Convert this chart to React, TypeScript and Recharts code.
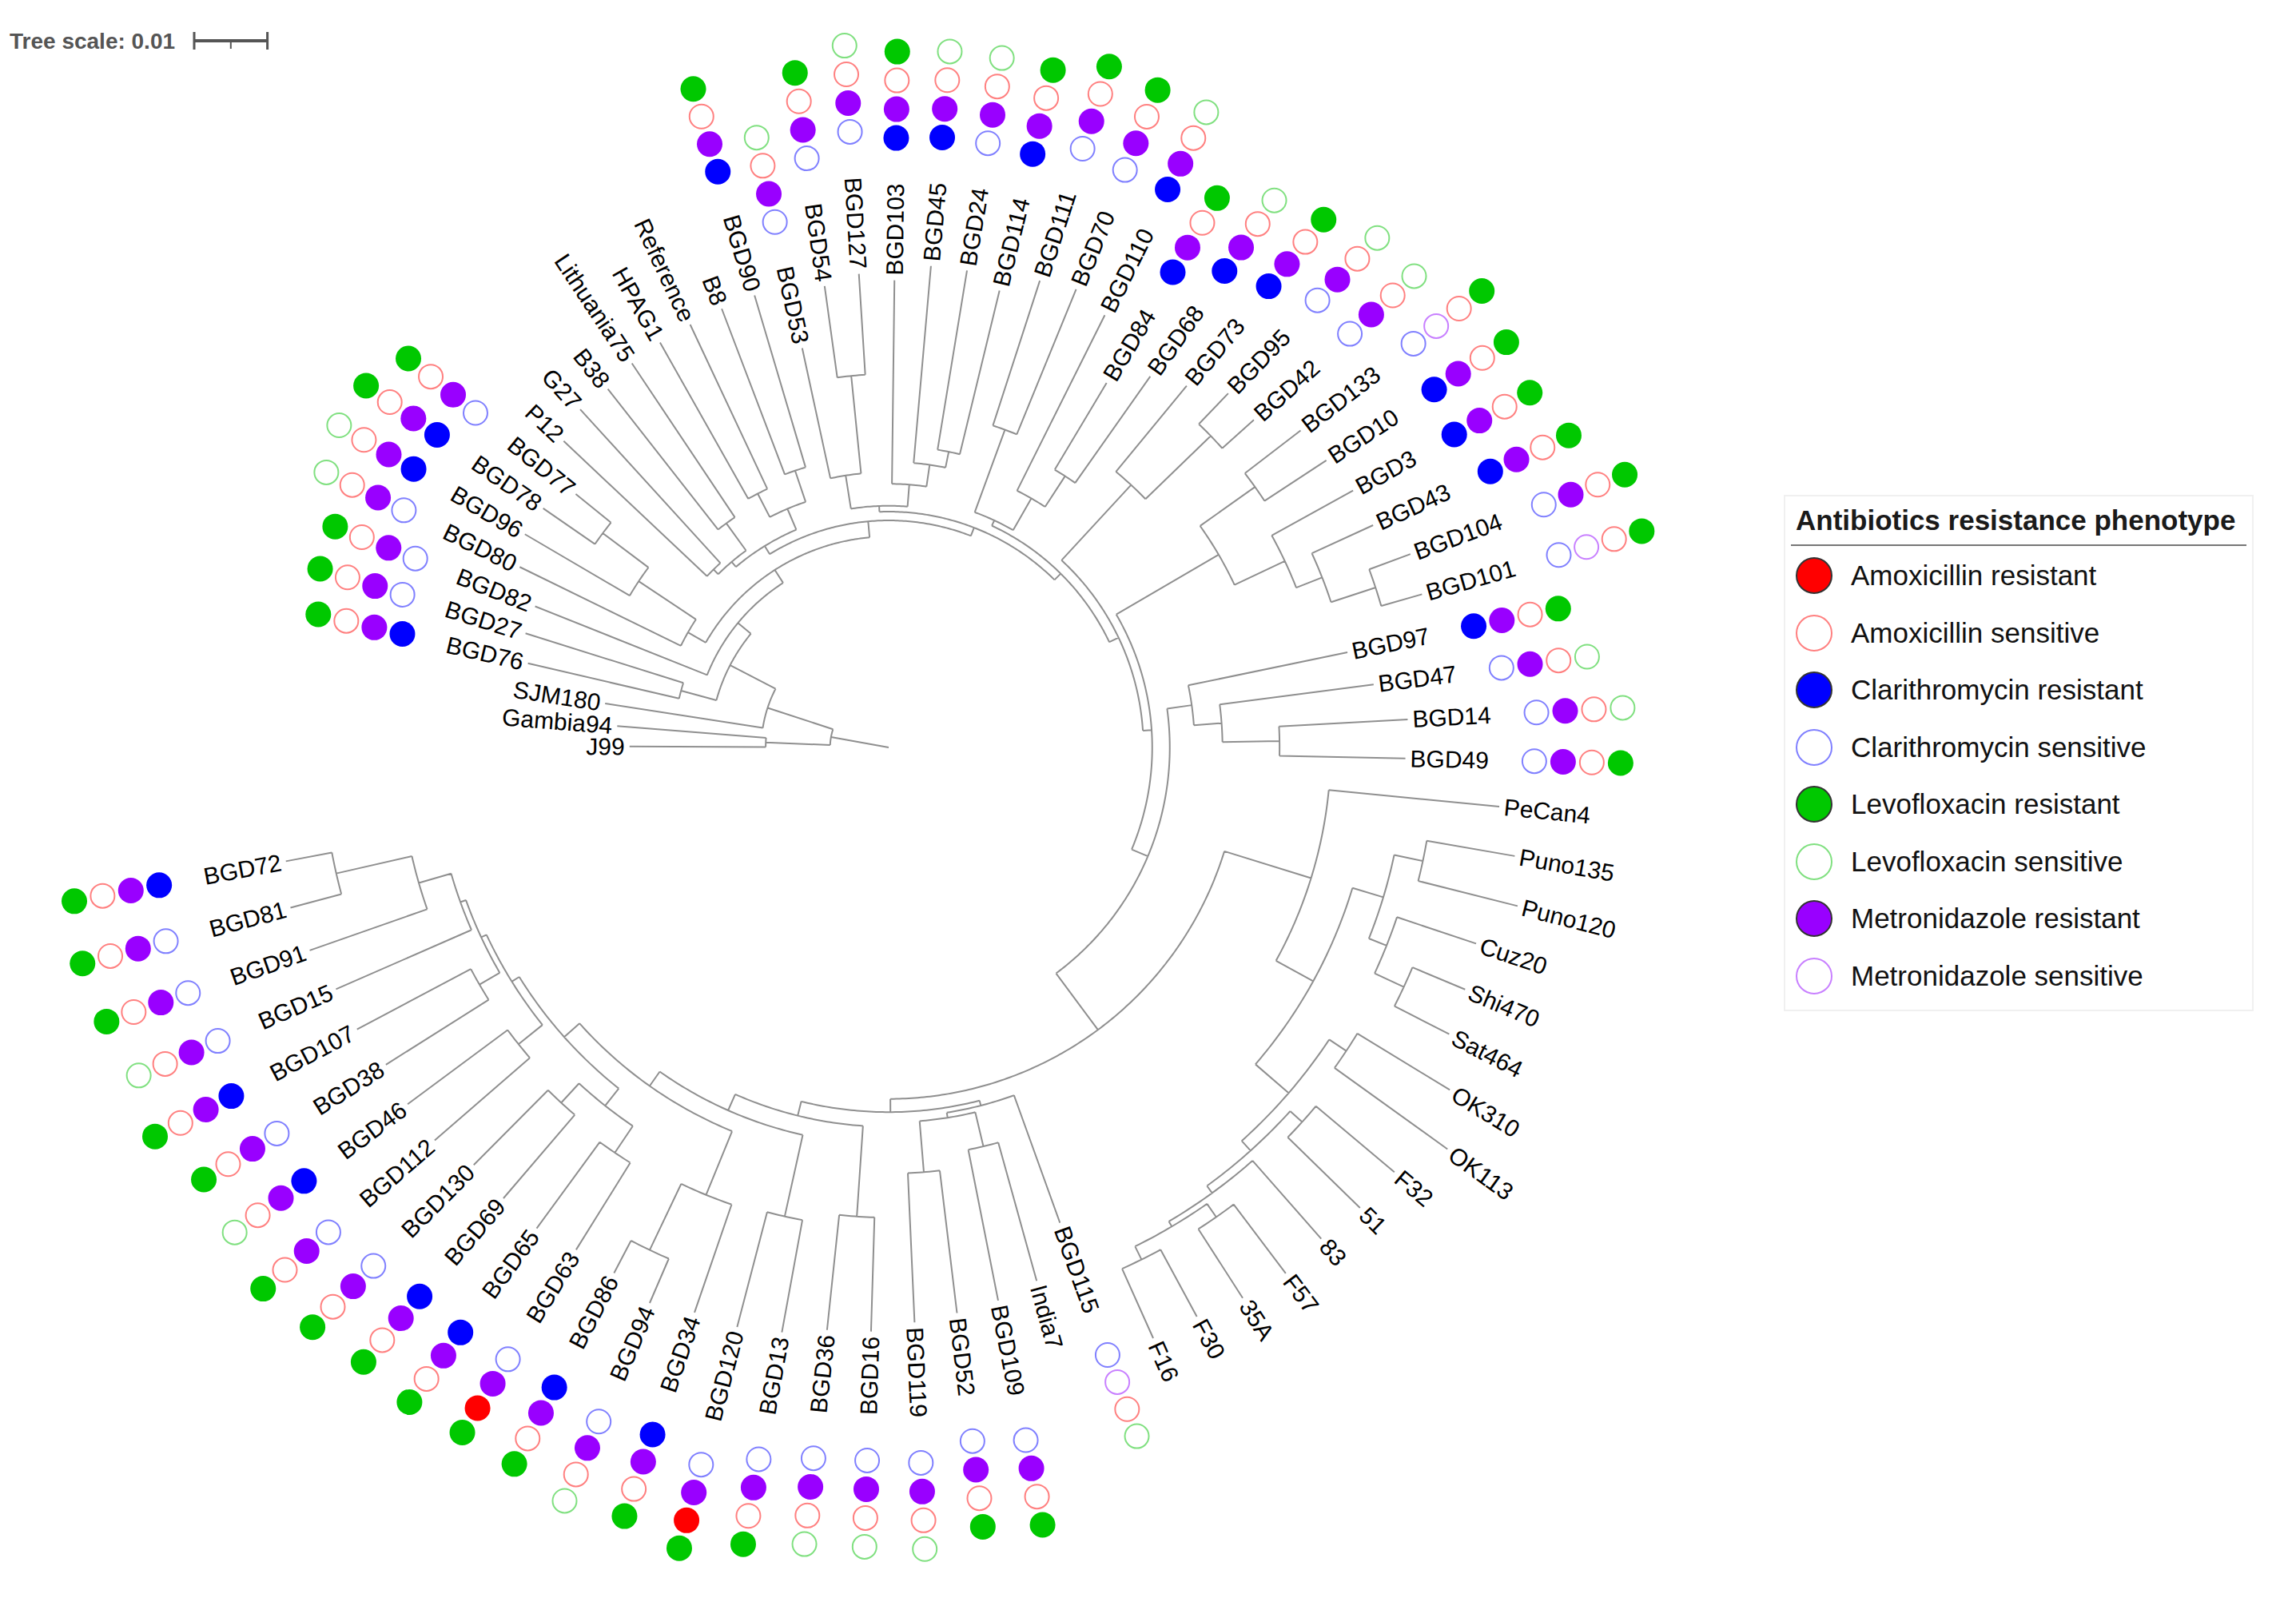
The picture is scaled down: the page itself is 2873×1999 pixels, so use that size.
import React, { useMemo } from 'react';
import { ComposedChart, Line, Scatter, XAxis, YAxis, ReferenceLine } from 'recharts';

// Phylogeny in Newick form. Each ":" value is the node's distance from the root,
// in units of 1e-4 substitutions per site.
const TREE_NEWICK = `
((
  (J99:354,Gambia94:372):168,
  (SJM180:392,
   ((BGD76:506,BGD27:520):294,
    (BGD82:520,
     ((BGD80:561,(BGD96:576,(BGD78:574,BGD77:550):488):410):316,
      ((((P12:610,G27:625):341,(B38:622,Lithuania75:631):378):332,((HPAG1:635,Reference:638):390,(B8:641,BGD90:644):399):354):323,
       (((BGD53:558,(BGD54:636,BGD127:648):510):376,(BGD103:638,(BGD45:660,(BGD24:660,BGD114:642):412):390):360):330,
        (((BGD111:670,BGD70:676):462,(BGD110:660,(BGD84:580,BGD68:620):442):392):342,
         ((BGD73:640,(BGD95:670,BGD42:670):612):488,
          (((BGD133:710,BGD10:715):614,(BGD3:725,(BGD43:728,(BGD104:760,BGD101:758):700):636):598):522,
           ((BGD97:640,(BGD47:668,(BGD14:710,BGD49:706):534):456):418,
            ((PeCan4:838,(((Puno135:868,Puno120:886):746,(Cuz20:846,(Shi470:854,Sat464:860):776):732):706,((OK310:898,OK113:940):750,((F32:902,51:900):762,(83:894,((F57:900,35A:894):782,(F30:884,F16:884):780):760):752):740):722):662):604,
             ((BGD115:690,((India7:756,BGD109:770):560,(BGD52:778,BGD119:786):582):512):505,
              ((BGD16:798,BGD36:800):642,
               ((BGD13:812,BGD120:818):656,
                ((BGD34:816,(BGD94:826,BGD86:810):760):660,
                 (((BGD63:808,BGD65:814):668,(BGD69:810,BGD130:804):660):624,((BGD112:820,BGD46:818):648,((BGD38:812,BGD107:822):646,(BGD15:824,(BGD91:838,(BGD81:846,BGD72:838):774):668):622):614):606):594
                ):566
               ):542
              ):518
             ):498
            ):480
           ):384
          ):360
         ):348
        ):334
       ):322
      ):310
     ):288
    ):267
   ):244
  ):174
):80);`;

// strains with susceptibility testing, and their phenotypes (1 = resistant, 0 = sensitive)
const AST_STRAINS = [
  'BGD76', 'BGD27', 'BGD82', 'BGD80', 'BGD96', 'BGD78', 'BGD77',
  'BGD90', 'BGD53', 'BGD54', 'BGD127', 'BGD103', 'BGD45', 'BGD24', 'BGD114', 'BGD111', 'BGD70',
  'BGD110', 'BGD84', 'BGD68', 'BGD73', 'BGD95', 'BGD42', 'BGD133', 'BGD10', 'BGD3', 'BGD43',
  'BGD104', 'BGD101', 'BGD97', 'BGD47', 'BGD14', 'BGD49',
  'BGD115', 'BGD109', 'BGD52', 'BGD119', 'BGD16', 'BGD36', 'BGD13', 'BGD120', 'BGD34', 'BGD94',
  'BGD86', 'BGD63', 'BGD65', 'BGD69', 'BGD130', 'BGD112', 'BGD46', 'BGD38', 'BGD107', 'BGD15',
  'BGD91', 'BGD81', 'BGD72',
];
const CLARITHROMYCIN = [
  1, 0, 0, 0, 1, 1, 0,
  1, 0, 0, 0, 1, 1, 0, 1, 0, 0,
  1, 1, 1, 1, 0, 0, 0, 1, 1, 1,
  0, 0, 1, 0, 0, 0,
  0, 0, 0, 0, 0, 0, 0, 0, 1, 0,
  1, 0, 1, 1, 0, 0, 1, 0, 1, 0,
  0, 0, 1,
];
const METRONIDAZOLE = [
  1, 1, 1, 1, 1, 1, 1,
  1, 1, 1, 1, 1, 1, 1, 1, 1, 1,
  1, 1, 1, 1, 1, 1, 0, 1, 1, 1,
  1, 0, 1, 1, 1, 1,
  0, 1, 1, 1, 1, 1, 1, 1, 1, 1,
  1, 1, 1, 1, 1, 1, 1, 1, 1, 1,
  1, 1, 1,
];
const AMOXICILLIN = [
  0, 0, 0, 0, 0, 0, 0,
  0, 0, 0, 0, 0, 0, 0, 0, 0, 0,
  0, 0, 0, 0, 0, 0, 0, 0, 0, 0,
  0, 0, 0, 0, 0, 0,
  0, 0, 0, 0, 0, 0, 0, 1, 0, 0,
  0, 1, 0, 0, 0, 0, 0, 0, 0, 0,
  0, 0, 0,
];
const LEVOFLOXACIN = [
  1, 1, 1, 0, 0, 1, 1,
  1, 0, 1, 0, 1, 0, 0, 1, 1, 1,
  0, 1, 0, 1, 0, 0, 1, 1, 1, 1,
  1, 1, 1, 0, 0, 1,
  0, 1, 1, 0, 0, 0, 1, 1, 1, 0,
  1, 1, 1, 1, 1, 1, 0, 1, 1, 0,
  1, 1, 1,
];

const TREE_SCALE = 0.01;

const W = 2857;
const H = 1983;
const CX = 1104;
const CY = 927;
const PX_PER_UNIT = 9160;
const FIRST_ANGLE = 179.8;
const ANGLE_STEP = 4.31;
const LABEL_SIZE = 30;
const LABEL_GAP = 6;
const RING_GAP = 57;
const RING_STEP = 36;
const DOT_R = 16;
const FONT = '"Liberation Sans", Arial, sans-serif';

// inner ring first
const RINGS = [
  { drug: 'Clarithromycin', values: CLARITHROMYCIN, fill: '#0000ff', line: '#8080ff' },
  { drug: 'Metronidazole', values: METRONIDAZOLE, fill: '#9900ff', line: '#c880ff' },
  { drug: 'Amoxicillin', values: AMOXICILLIN, fill: '#ff0000', line: '#ff8080' },
  { drug: 'Levofloxacin', values: LEVOFLOXACIN, fill: '#00c800', line: '#80e080' },
];
const LEGEND_ORDER = ['Amoxicillin', 'Clarithromycin', 'Levofloxacin', 'Metronidazole'];

type TNode = { name: string; depth: number; children: TNode[]; angle: number };

function parseNewick(src: string): TNode {
  const s = src.replace(/\s+/g, '');
  let i = 0;
  const read = (): TNode => {
    const node: TNode = { name: '', depth: 0, children: [], angle: 0 };
    if (s[i] === '(') {
      i++;
      node.children.push(read());
      while (s[i] === ',') {
        i++;
        node.children.push(read());
      }
      i++;
    }
    let name = '';
    while (i < s.length && !':,);'.includes(s[i])) name += s[i++];
    node.name = name;
    if (s[i] === ':') {
      i++;
      let num = '';
      while (i < s.length && !',);'.includes(s[i])) num += s[i++];
      node.depth = Number(num) * 1e-4;
    }
    return node;
  };
  return read();
}

const polar = (r: number, deg: number) => {
  const a = (deg * Math.PI) / 180;
  return { x: CX + r * Math.cos(a), y: CY - r * Math.sin(a) };
};

function layoutTree() {
  const root = parseNewick(TREE_NEWICK);
  const leaves: TNode[] = [];
  const place = (n: TNode) => {
    if (!n.children.length) {
      n.angle = FIRST_ANGLE - leaves.length * ANGLE_STEP;
      leaves.push(n);
      return;
    }
    n.children.forEach(place);
    n.angle = (n.children[0].angle + n.children[n.children.length - 1].angle) / 2;
  };
  place(root);

  const branches: { x: number; y: number | null }[] = [];
  const draw = (n: TNode, parentDepth: number | null) => {
    const r = n.depth * PX_PER_UNIT;
    if (parentDepth !== null) {
      const a = polar(parentDepth * PX_PER_UNIT, n.angle);
      const b = polar(r, n.angle);
      branches.push(a, b, { x: b.x, y: null });
    }
    if (n.children.length > 1) {
      const a0 = n.children[0].angle;
      const a1 = n.children[n.children.length - 1].angle;
      const steps = Math.max(2, Math.ceil(Math.abs(a0 - a1) / 0.5));
      for (let k = 0; k <= steps; k++) branches.push(polar(r, a0 + ((a1 - a0) * k) / steps));
      branches.push({ x: branches[branches.length - 1].x, y: null });
    }
    n.children.forEach((c) => draw(c, n.depth));
  };
  draw(root, null);

  const labels = leaves.map((l) => ({
    ...polar(l.depth * PX_PER_UNIT + LABEL_GAP, l.angle),
    name: l.name,
    angle: l.angle,
  }));

  const ctx = document.createElement('canvas').getContext('2d')!;
  ctx.font = `${LABEL_SIZE}px ${FONT}`;
  const dots: any[] = [];
  AST_STRAINS.forEach((strain, i) => {
    const leaf = leaves.find((l) => l.name === strain);
    if (!leaf) return;
    const start = leaf.depth * PX_PER_UNIT + LABEL_GAP + ctx.measureText(strain).width + RING_GAP;
    RINGS.forEach((ring, k) => {
      dots.push({
        ...polar(start + k * RING_STEP, leaf.angle),
        resistant: ring.values[i] === 1,
        fill: ring.fill,
        line: ring.line,
      });
    });
  });

  return { branches, labels, dots };
}

const renderLabel = (p: any) => {
  const { cx, cy, payload } = p;
  const right = Math.cos((payload.angle * Math.PI) / 180) >= 0;
  const rot = right ? -payload.angle : 180 - payload.angle;
  return (
    <text
      x={cx}
      y={cy}
      dy="0.35em"
      textAnchor={right ? 'start' : 'end'}
      transform={`rotate(${rot} ${cx} ${cy})`}
      fontSize={LABEL_SIZE}
      fontFamily={FONT}
      fill="#000"
    >
      {payload.name}
    </text>
  );
};

const renderDot = (p: any) => {
  const { cx, cy, payload } = p;
  return payload.resistant ? (
    <circle cx={cx} cy={cy} r={DOT_R} fill={payload.fill} />
  ) : (
    <circle cx={cx} cy={cy} r={DOT_R - 1} fill="#fff" stroke={payload.line} strokeWidth={2} />
  );
};

function PhenotypeLegend() {
  const items = LEGEND_ORDER.flatMap((drug) => {
    const ring = RINGS.find((r) => r.drug === drug)!;
    return [
      { label: `${drug} resistant`, filled: true, color: ring.fill },
      { label: `${drug} sensitive`, filled: false, color: ring.line },
    ];
  });
  return (
    <div
      style={{
        position: 'absolute',
        left: 2224,
        top: 611,
        width: 584,
        height: 642,
        border: '2px solid #f0f0f0',
        background: '#fff',
        fontFamily: FONT,
      }}
    >
      <div
        style={{
          position: 'absolute',
          left: 13,
          top: 10,
          fontSize: 35,
          fontWeight: 'bold',
          lineHeight: '40px',
          color: '#1a1a1a',
          whiteSpace: 'nowrap',
        }}
      >
        Antibiotics resistance phenotype
      </div>
      <div style={{ position: 'absolute', left: 7, top: 60, width: 570, height: 2, background: '#777' }} />
      {items.map((it, k) => (
        <div
          key={it.label}
          style={{ position: 'absolute', left: 0, top: 99 + k * 71.5 - 24, height: 48, width: 580 }}
        >
          <svg width={60} height={48} style={{ position: 'absolute', left: 6, top: 0 }}>
            {it.filled ? (
              <circle cx={30} cy={24} r={22} fill={it.color} stroke="#333" strokeWidth={2} />
            ) : (
              <circle cx={30} cy={24} r={22} fill="#fff" stroke={it.color} strokeWidth={2} />
            )}
          </svg>
          <div
            style={{
              position: 'absolute',
              left: 82,
              top: 0,
              lineHeight: '48px',
              fontSize: 35,
              color: '#111',
              whiteSpace: 'nowrap',
            }}
          >
            {it.label}
          </div>
        </div>
      ))}
    </div>
  );
}

export default function App() {
  const { branches, labels, dots } = useMemo(layoutTree, []);
  const bx0 = 235;
  const bx1 = bx0 + TREE_SCALE * PX_PER_UNIT;
  const by = 43;

  return (
    <div style={{ position: 'relative', width: W, height: H, overflow: 'hidden', background: '#fff' }}>
      <ComposedChart width={W} height={H} margin={{ top: 0, right: 0, bottom: 0, left: 0 }}>
        <XAxis type="number" dataKey="x" domain={[0, W]} hide allowDataOverflow />
        <YAxis type="number" dataKey="y" domain={[0, H]} reversed hide allowDataOverflow />
        <Line
          data={branches}
          dataKey="y"
          type="linear"
          stroke="#8f8f8f"
          strokeWidth={2}
          dot={false}
          activeDot={false}
          connectNulls={false}
          isAnimationActive={false}
        />
        <Scatter data={labels} shape={renderLabel} isAnimationActive={false} />
        <Scatter data={dots} shape={renderDot} isAnimationActive={false} />
        <ReferenceLine segment={[{ x: bx0, y: by }, { x: bx1, y: by }]} stroke="#555" strokeWidth={4} ifOverflow="visible" />
        <ReferenceLine segment={[{ x: bx0, y: by - 11 }, { x: bx0, y: by + 11 }]} stroke="#555" strokeWidth={3} ifOverflow="visible" />
        <ReferenceLine segment={[{ x: bx1, y: by - 11 }, { x: bx1, y: by + 11 }]} stroke="#555" strokeWidth={3} ifOverflow="visible" />
        <ReferenceLine
          segment={[{ x: (bx0 + bx1) / 2, y: by }, { x: (bx0 + bx1) / 2, y: by + 10 }]}
          stroke="#555"
          strokeWidth={2}
          ifOverflow="visible"
        />
      </ComposedChart>
      <div
        style={{
          position: 'absolute',
          left: 4,
          top: 28,
          lineHeight: '32px',
          fontSize: 28,
          fontWeight: 'bold',
          color: '#555',
          fontFamily: FONT,
          whiteSpace: 'nowrap',
        }}
      >
        Tree scale: 0.01
      </div>
      <PhenotypeLegend />
    </div>
  );
}
